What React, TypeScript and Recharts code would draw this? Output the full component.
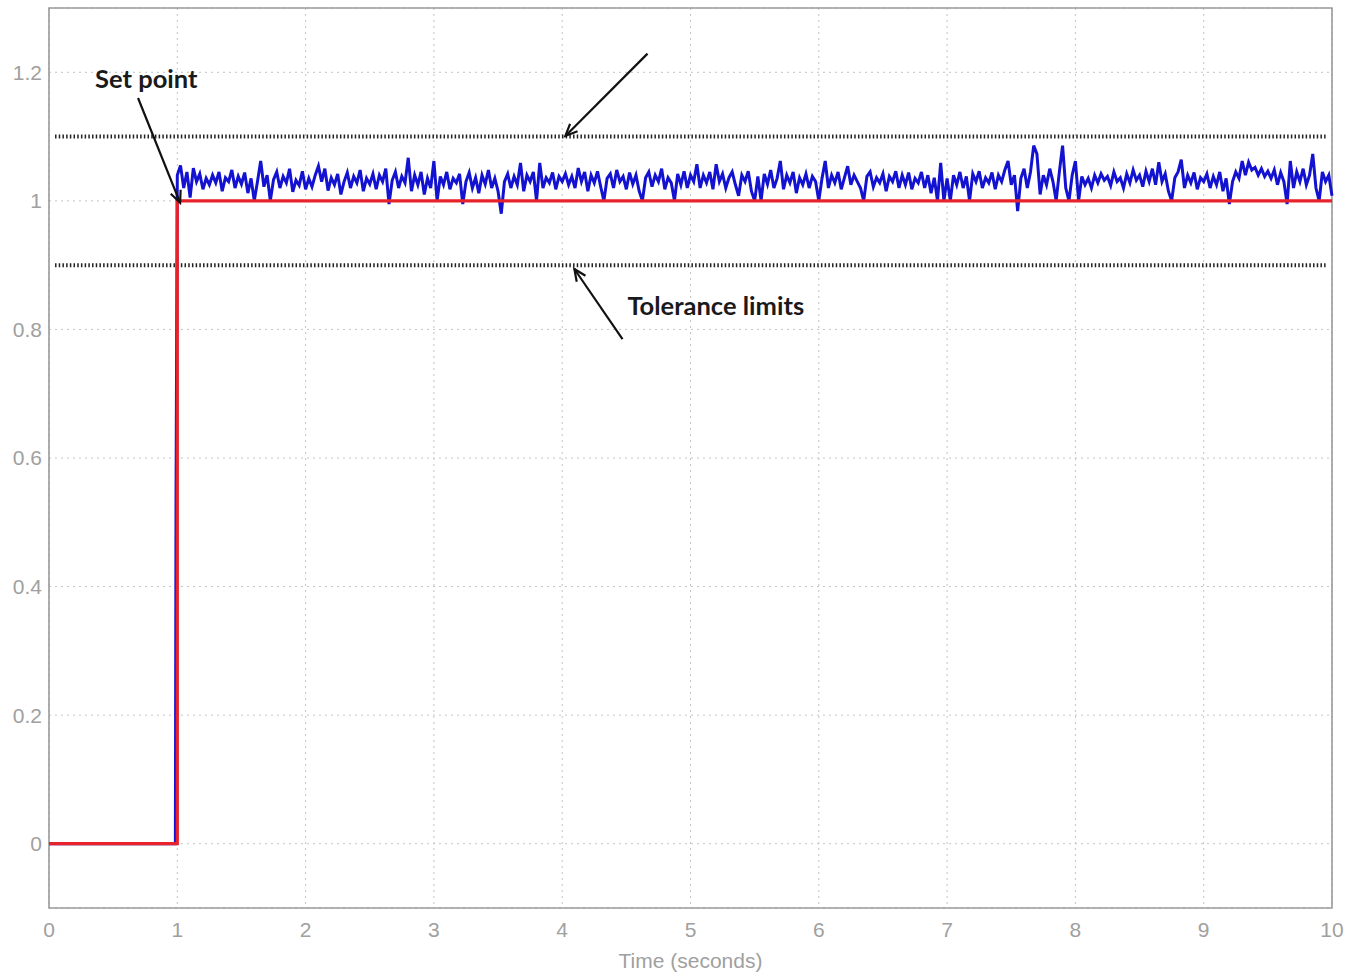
import React from 'react';
import {
    LineChart, Line, XAxis, YAxis, CartesianGrid,
    ReferenceLine, ReferenceArea, ReferenceDot
} from 'recharts';

// set point (red step)
const setTimes = [0, 1, 1, 10];
const setValues = [0, 0, 1, 1];

// measured output (blue): lead-in before the noise samples
const leadTimes = [0, 0.985, 0.99, 1.0];
const leadValues = [0, 0, 0.53, 1.04];

// noisy output sampled every 0.025 s from t = 1.025 to 10
const noiseStart = 1.025;
const noiseStep = 0.025;
const noiseValues = [
    1.055, 1.02, 1.045, 1.005, 1.051, 1.03, 1.042, 1.018, 1.035, 1.025,
    1.04, 1.028, 1.045, 1.015, 1.036, 1.03, 1.048, 1.02, 1.038, 1.026,
    1.044, 1.012, 1.035, 1.0, 1.03, 1.062, 1.022, 1.04, 1.0, 1.033,
    1.045, 1.02, 1.038, 1.028, 1.05, 1.014, 1.032, 1.024, 1.046, 1.018,
    1.035, 1.022, 1.04, 1.054, 1.03, 1.05, 1.016, 1.036, 1.025, 1.042,
    1.01, 1.03, 1.044, 1.02, 1.038, 1.028, 1.048, 1.015, 1.035, 1.026,
    1.042, 1.018, 1.04, 1.03, 1.05, 0.995, 1.032, 1.045, 1.02, 1.038,
    1.028, 1.067, 1.015, 1.04, 1.025, 1.045, 1.01, 1.035, 1.02, 1.062,
    1.0, 1.038, 1.025, 1.045, 1.018, 1.035, 1.028, 1.042, 0.995, 1.03,
    1.044, 1.02, 1.036, 1.012, 1.04, 1.026, 1.048, 1.02, 1.035, 1.015,
    0.98, 1.03, 1.042, 1.02, 1.038, 1.025, 1.059, 1.015, 1.04, 1.03,
    1.045, 1.0, 1.059, 1.02, 1.036, 1.028, 1.044, 1.018, 1.038, 1.03,
    1.042, 1.025, 1.038, 1.02, 1.051, 1.03, 1.045, 1.015, 1.04, 1.028,
    1.046, 1.022, 1.0, 1.035, 1.042, 1.02, 1.048, 1.03, 1.038, 1.018,
    1.044, 1.026, 1.04, 1.015, 1.0, 1.036, 1.045, 1.022, 1.04, 1.03,
    1.05, 1.018, 1.036, 1.028, 1.0, 1.042, 1.025, 1.046, 1.02, 1.04,
    1.03, 1.057, 1.02, 1.04, 1.028, 1.045, 1.018, 1.057, 1.03, 1.042,
    1.02, 1.036, 1.045, 1.025, 1.008, 1.04, 1.03, 1.046, 1.015, 1.0,
    1.038, 1.0, 1.042, 1.026, 1.048, 1.02, 1.035, 1.062, 1.018, 1.04,
    1.028, 1.045, 1.012, 1.036, 1.025, 1.042, 1.02, 1.038, 1.03, 1.0,
    1.035, 1.062, 1.02, 1.04, 1.028, 1.045, 1.018, 1.036, 1.054, 1.025,
    1.04, 1.03, 1.02, 1.0, 1.038, 1.045, 1.022, 1.036, 1.028, 1.042,
    1.015, 1.038, 1.03, 1.046, 1.02, 1.04, 1.025, 1.044, 1.018, 1.035,
    1.028, 1.045, 1.02, 1.04, 1.012, 1.036, 1.0, 1.059, 1.0, 1.035,
    1.0, 1.04, 1.025, 1.045, 1.02, 1.038, 1.0, 1.042, 1.03, 1.046,
    1.02, 1.036, 1.028, 1.044, 1.018, 1.04, 1.03, 1.048, 1.062, 1.025,
    1.04, 0.984, 1.035, 1.05, 1.02, 1.045, 1.086, 1.073, 1.01, 1.04,
    1.025, 1.05, 1.03, 1.0, 1.045, 1.086, 1.02, 1.0, 1.04, 1.062,
    1.0, 1.038, 1.025, 1.035, 1.02, 1.04, 1.028, 1.042, 1.032, 1.038,
    1.024, 1.045, 1.03, 1.036, 1.02, 1.042, 1.028, 1.048, 1.032, 1.04,
    1.022, 1.046, 1.03, 1.05, 1.025, 1.06, 1.03, 1.042, 1.015, 1.0,
    1.036, 1.045, 1.064, 1.02, 1.04, 1.028, 1.044, 1.018, 1.036, 1.03,
    1.042, 1.02, 1.038, 1.025, 1.045, 1.015, 1.035, 0.995, 1.03, 1.045,
    1.035, 1.062, 1.04, 1.06, 1.048, 1.052, 1.04, 1.05, 1.038, 1.046,
    1.035, 1.048, 1.025, 1.044, 1.03, 0.995, 1.062, 1.02, 1.045, 1.03,
    1.05, 1.025, 1.04, 1.073, 1.02, 1.0, 1.045, 1.03, 1.04, 1.008,
];

const upperLimit = 1.1;
const lowerLimit = 0.9;

const xTicks = [0, 1, 2, 3, 4, 5, 6, 7, 8, 9, 10];
const yTicks = [0, 0.2, 0.4, 0.6, 0.8, 1, 1.2];

const setData = setTimes.map((t, i) => ({ t, v: setValues[i] }));
const outData = [
    ...leadTimes.map((t, i) => ({ t, v: leadValues[i] })),
    ...noiseValues.map((v, i) => ({ t: +(noiseStart + i * noiseStep).toFixed(3), v })),
];

// annotation arrows: [tail, head] in data units
const arrows = [
    [{ x: 0.694, y: 1.16 }, { x: 1.022, y: 0.997 }],
    [{ x: 4.665, y: 1.229 }, { x: 4.025, y: 1.101 }],
    [{ x: 4.47, y: 0.785 }, { x: 4.095, y: 0.894 }],
];
const notes = [
    { x: 0.359, y: 1.176, text: 'Set point' },
    { x: 4.508, y: 0.823, text: 'Tolerance limits' },
];

const ArrowShape = (p: any) => {
    const { x1, y1, x2, y2 } = p;
    const ang = Math.atan2(y2 - y1, x2 - x1);
    const L = 13;
    const a = 0.42;
    const hx1 = x2 - L * Math.cos(ang - a);
    const hy1 = y2 - L * Math.sin(ang - a);
    const hx2 = x2 - L * Math.cos(ang + a);
    const hy2 = y2 - L * Math.sin(ang + a);
    return (
        <g>
            <line x1={x1} y1={y1} x2={x2} y2={y2} stroke="#111" strokeWidth={2.2} />
            <polyline
                points={`${hx1},${hy1} ${x2},${y2} ${hx2},${hy2}`}
                fill="none" stroke="#111" strokeWidth={2.2}
            />
        </g>
    );
};

const tickStyle = { fontFamily: '"Liberation Sans", sans-serif', fontSize: 21, fill: '#a0a0a0' };

export default function App() {
    return (
        <div style={{ position: 'absolute', left: 0, top: 0, background: '#fff' }}>
            <LineChart width={1345} height={973} margin={{ top: 8, right: 13, left: 5, bottom: 0 }}>
                <CartesianGrid stroke="#c4c4c4" strokeDasharray="2 4" />
                <XAxis
                    type="number" dataKey="t" domain={[0, 10]} ticks={xTicks}
                    tickLine={false} axisLine={false} tickSize={0} tickMargin={14}
                    height={65} tick={tickStyle} allowDuplicatedCategory={false}
                    label={{ value: 'Time (seconds)', position: 'insideBottom', offset: 5, style: tickStyle }}
                />
                <YAxis
                    type="number" domain={[-0.1, 1.3]} ticks={yTicks}
                    tickLine={false} axisLine={false} tickSize={0} tickMargin={7}
                    width={44} tick={tickStyle}
                />
                <ReferenceArea x1={0} x2={10} y1={-0.1} y2={1.3} fill="none" stroke="#9a9a9a" strokeWidth={1.6} />
                <ReferenceLine
                    segment={[{ x: 0.047, y: upperLimit }, { x: 9.95, y: upperLimit }]}
                    stroke="#222" strokeWidth={4} strokeDasharray="1.5 2.2"
                />
                <ReferenceLine
                    segment={[{ x: 0.047, y: lowerLimit }, { x: 9.95, y: lowerLimit }]}
                    stroke="#222" strokeWidth={4} strokeDasharray="1.5 2.2"
                />
                <Line
                    data={outData} dataKey="v" type="linear" stroke="#1212d0"
                    strokeWidth={3} dot={false} isAnimationActive={false}
                />
                <Line
                    data={setData} dataKey="v" type="linear" stroke="#e8222a"
                    strokeWidth={3.2} dot={false} isAnimationActive={false}
                />
                {arrows.map((seg, i) => (
                    <ReferenceLine key={`a${i}`} segment={seg} shape={ArrowShape} />
                ))}
                {notes.map((n, i) => (
                    <ReferenceDot
                        key={`n${i}`} x={n.x} y={n.y} r={0}
                        shape={(p: any) => (
                            <text
                                x={p.cx} y={p.cy} fill="#1a1a1a"
                                fontFamily="Lato, sans-serif" fontWeight="bold" fontSize={25.5}
                            >
                                {n.text}
                            </text>
                        )}
                    />
                ))}
            </LineChart>
        </div>
    );
}
